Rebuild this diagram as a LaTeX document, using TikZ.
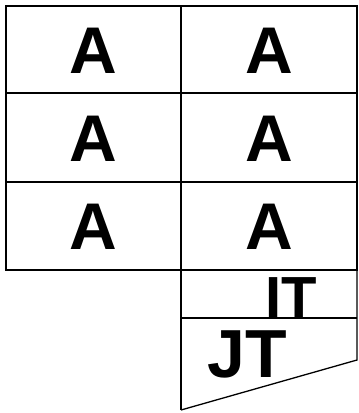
\documentclass[tikz,border=0pt]{standalone}
\usepackage{fontspec}
\setmainfont{Liberation Sans}
\begin{document}
\begin{tikzpicture}[x=1pt,y=-1pt,
  cellline/.style={line width=1.3pt,black},
  bigA/.style={font=\fontsize{66}{66}\selectfont\bfseries,inner sep=0pt,anchor=center},
  tlabel/.style={font=\fontsize{58}{58}\selectfont\bfseries,inner sep=0pt}]
\useasboundingbox (0,0) rectangle (359,413);
% grid
\draw[cellline] (6,6) rectangle (357,270);
\draw[cellline] (181,6) -- (181,410);
\draw[cellline] (6,93) -- (357,93);
\draw[cellline] (6,182) -- (357,182);
\draw[cellline] (181,270) -- (357,270) -- (357,360) -- (181,410);
\draw[cellline] (181,318) -- (357,318);
% labels
\node[bigA] (a11) at (93,51) {A};
\node[bigA] (a12) at (269,51) {A};
\node[bigA] (a21) at (93,139) {A};
\node[bigA] (a22) at (269,139) {A};
\node[bigA] (a31) at (93,227) {A};
\node[bigA] (a32) at (269,227) {A};
\node[tlabel,anchor=base] (it) at (291,317) {IT};
\node[tlabel,font=\fontsize{68}{68}\selectfont\bfseries,anchor=base west] (jt) at (207,377) {JT};
\end{tikzpicture}
\end{document}
